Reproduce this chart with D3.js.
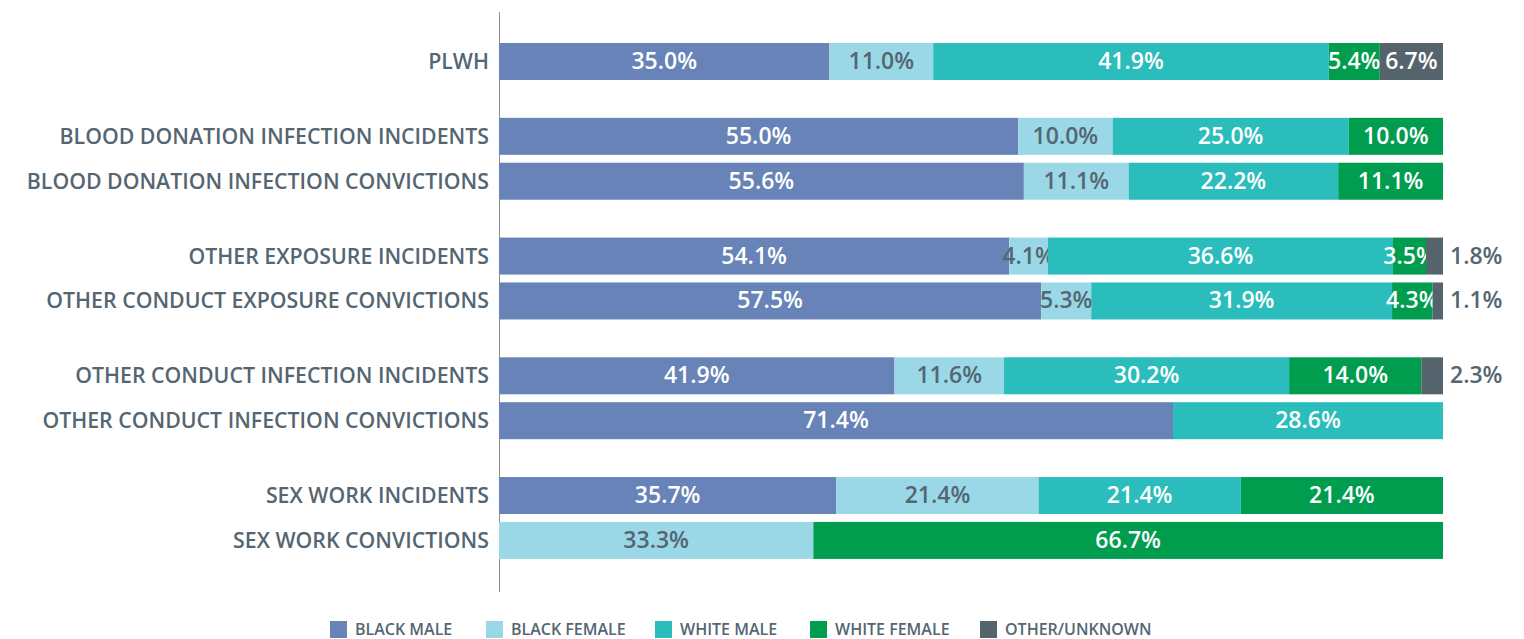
<!DOCTYPE html>
<html>
<head>
<meta charset="utf-8">
<script src="https://cdn.jsdelivr.net/npm/d3@7"></script>
<style>
  body { margin: 0; background: #fff; }
  text { font-family: "Open Sans", sans-serif; font-weight: 600; }
</style>
</head>
<body>
<div id="chart"></div>
<script>
// rows, top to bottom, with the group each one belongs to
var categories = [
  "PLWH",
  "BLOOD DONATION INFECTION INCIDENTS",
  "BLOOD DONATION INFECTION CONVICTIONS",
  "OTHER EXPOSURE INCIDENTS",
  "OTHER CONDUCT EXPOSURE CONVICTIONS",
  "OTHER CONDUCT INFECTION INCIDENTS",
  "OTHER CONDUCT INFECTION CONVICTIONS",
  "SEX WORK INCIDENTS",
  "SEX WORK CONVICTIONS"
];
var groups = [0, 1, 1, 2, 2, 3, 3, 4, 4];

var seriesNames = ["BLACK MALE", "BLACK FEMALE", "WHITE MALE", "WHITE FEMALE", "OTHER/UNKNOWN"];
var colors = ["#6783b7", "#9ad8e8", "#2abdbb", "#009d4f", "#55636d"];

// percent per row, one array per series
var blackMale   = [35.0, 55.0, 55.6, 54.1, 57.5, 41.9, 71.4, 35.7, 0];
var blackFemale = [11.0, 10.0, 11.1, 4.1, 5.3, 11.6, 0, 21.4, 33.3];
var whiteMale   = [41.9, 25.0, 22.2, 36.6, 31.9, 30.2, 28.6, 21.4, 0];
var whiteFemale = [5.4, 10.0, 11.1, 3.5, 4.3, 14.0, 0, 21.4, 66.7];
var otherUnk    = [6.7, 0, 0, 1.8, 1.1, 2.3, 0, 0, 0];

var width = 1524, height = 639;
var svg = d3.select("#chart").append("svg")
    .attr("width", width).attr("height", height);

var x = d3.scaleLinear().domain([0, 100]).range([499, 1443]);
// position units: one per row plus 2/3 of a row between groups
var y = d3.scaleLinear().domain([0, 1]).range([43, 87.9]);
var barH = 37;
var labelColor = "#546672";

var series = [blackMale, blackFemale, whiteMale, whiteFemale, otherUnk];

var rows = categories.map(function(c, i) {
  var vals = series.map(function(s) { return s[i]; });
  var total = d3.sum(vals);
  var acc = 0;
  var segs = vals.map(function(v, k) {
    var s = { key: k, value: v, x0: acc / total * 100, x1: (acc + v) / total * 100 };
    acc += v;
    return s;
  });
  return { name: c, pos: i + groups[i] * 2 / 3, segs: segs };
});

// axis line
svg.append("line")
  .attr("x1", 499.5).attr("x2", 499.5)
  .attr("y1", 12).attr("y2", 592)
  .attr("stroke", "#8a8f94").attr("stroke-width", 1);

var row = svg.selectAll("g.row")
  .data(rows)
  .enter().append("g")
  .attr("class", "row")
  .attr("transform", function(d) { return "translate(0," + y(d.pos) + ")"; });

row.append("text")
  .attr("x", 489)
  .attr("y", 26)
  .attr("text-anchor", "end")
  .attr("fill", labelColor)
  .style("font-size", "21.3px")
  .text(function(d) { return d.name; });

var seg = row.selectAll("g.seg")
  .data(function(d) { return d.segs.filter(function(s) { return s.value > 0; }); })
  .enter().append("g").attr("class", "seg");

seg.append("rect")
  .attr("x", function(d) { return x(d.x0); })
  .attr("width", function(d) { return x(d.x1) - x(d.x0); })
  .attr("y", 0)
  .attr("height", barH)
  .attr("fill", function(d) { return colors[d.key]; });

seg.append("text")
  .attr("x", function(d) {
    if (d.value < 3) return x(d.x1) + 7;
    return (x(d.x0) + x(d.x1)) / 2;
  })
  .attr("y", 26)
  .attr("text-anchor", function(d) { return d.value < 3 ? "start" : "middle"; })
  .attr("fill", function(d) {
    if (d.value < 3 || d.key == 1) return labelColor;
    return "#fff";
  })
  .style("font-size", "23px")
  .text(function(d) { return d.value.toFixed(1) + "%"; });

// legend
var legendX = [330, 486, 655, 810, 980];
var legend = svg.selectAll("g.legend")
  .data(seriesNames)
  .enter().append("g")
  .attr("class", "legend")
  .attr("transform", function(d, i) { return "translate(" + legendX[i] + ",621)"; });

legend.append("rect")
  .attr("width", 17).attr("height", 17)
  .attr("fill", function(d, i) { return colors[i]; });

legend.append("text")
  .attr("x", 25)
  .attr("y", 14)
  .attr("fill", labelColor)
  .style("font-size", "16px")
  .text(function(d) { return d; });
</script>
</body>
</html>
